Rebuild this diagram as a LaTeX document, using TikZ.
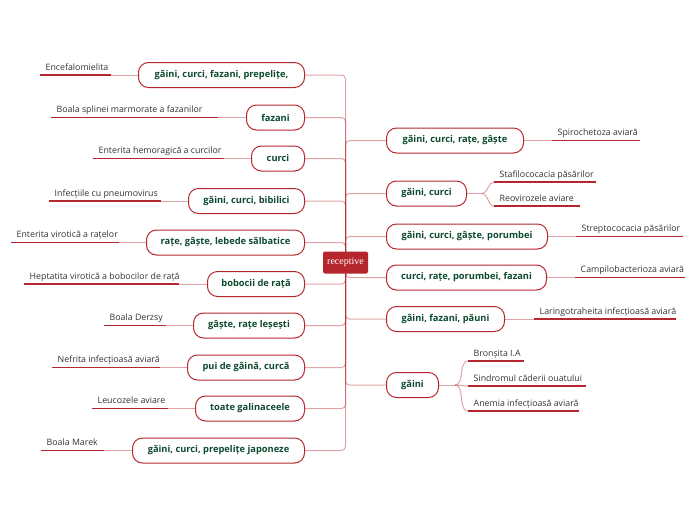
\documentclass[tikz,border=0pt]{standalone}
\usepackage{fontspec}
\setmainfont{Open Sans}
\newfontfamily\serifc{Liberation Serif}
\usetikzlibrary{backgrounds}
\definecolor{dred}{HTML}{B5272D}
\definecolor{ngreen}{HTML}{0D4A2E}
\definecolor{ltext}{HTML}{333333}
\begin{document}
\begin{tikzpicture}[x=1pt,y=-1pt,
  cat/.style={draw=dred, line width=1pt, rounded corners=10pt, minimum height=25pt, inner sep=0pt, font=\bfseries\fontsize{9.3}{11}\selectfont, text=ngreen},
  lab/.style={anchor=base west, inner sep=0pt, font=\fontsize{8.8}{11}\selectfont, text=ltext},
  uline/.style={draw=dred, line width=1.8pt},
  conn/.style={draw=dred, draw opacity=0.42, line width=1pt},
  trunk/.style={conn, rounded corners=4pt}]
\useasboundingbox (0,0) rectangle (696,520);

\node[fill=dred, text=white, rounded corners=2pt, minimum width=45pt, minimum height=22pt, inner sep=0pt, font=\serifc\fontsize{10}{11}\selectfont] (root) at (345.5,262.5) {receptive};

% left categories and leaves
\foreach \n/\y/\w/\ul/\ur/\cat/\leaf in {
  1/75/166/40/111/{găini, curci, fazani, prepelițe,}/{Encefalomielita},
  2/117.5/58/51/218/{fazani}/{Boala splinei marmorate a fazanilor},
  3/158.5/53/93/224/{curci}/{Enterita hemoragică a curcilor},
  4/201/116/49/161/{găini, curci, bibilici}/{Infecțiile cu pneumovirus},
  5/242.5/158/11/119/{rațe, gâște, lebede sălbatice}/{Enterita virotică a rațelor},
  6/284/97/24/179/{bobocii de rață}/{Heptatita virotică a bobocilor de rață},
  7/325.5/111/104/166/{gâște, rațe leșești}/{Boala Derzsy},
  8/367.5/117/52/160/{pui de găină, curcă}/{Nefrita infecțioasă aviară},
  9/408.5/109/92/168/{toate galinaceele}/{Leucozele aviare},
  10/450.5/172/41/104/{găini, curci, prepelițe japoneze}/{Boala Marek}}{
  \node[cat, minimum width=\w pt, anchor=east] (l\n) at (305,\y) {\cat};
  \coordinate (l\n a) at (\ul,\y);
  \coordinate (l\n b) at (\ur,\y);
  \node[lab] (lt\n) at ([xshift=5.5pt,yshift=4.8pt]l\n a) {\leaf};
  \begin{scope}[on background layer]
    \draw[trunk] (root.center) |- (l\n.east);
    \draw[conn] (l\n.west) -- (l\n b);
  \end{scope}
  \draw[uline] (l\n a) -- (l\n b);
}

% right categories with single leaf
\foreach \n/\y/\w/\ul/\ur/\cat/\leaf in {
  1/140.5/137/552/640/{găini, curci, rațe, gâște}/{Spirochetoza aviară},
  3/236.5/161/576/683/{găini, curci, gâște, porumbei}/{Streptococacia păsărilor},
  4/277.5/160/575/685/{curci, rațe, porumbei, fazani}/{Campilobacterioza aviară},
  5/319/118/534/676/{găini, fazani, păuni}/{Laringotraheita infecțioasă aviară}}{
  \node[cat, minimum width=\w pt, anchor=west] (r\n) at (386,\y) {\cat};
  \coordinate (r\n a) at (\ul,\y);
  \coordinate (r\n b) at (\ur,\y);
  \node[lab] (rt\n) at ([xshift=5.5pt,yshift=4.8pt]r\n a) {\leaf};
  \begin{scope}[on background layer]
    \draw[trunk] (root.center) |- (r\n.west);
    \draw[conn] (r\n.east) -- (r\n a);
  \end{scope}
  \draw[uline] (r\n a) -- (r\n b);
}

% right categories with several leaves
\node[cat, minimum width=80pt, anchor=west] (r2) at (386,193.5) {găini, curci};
\node[cat, minimum width=52pt, anchor=west] (r6) at (386,385) {găini};
\coordinate (r2j) at (482,193.5);
\coordinate (r6j) at (455,385);
\foreach \k/\pp/\y/\ul/\ur/\leaf in {
  a/2/182/494/596/{Stafilococacia păsărilor},
  b/2/206/494/580/{Reovirozele aviare},
  a/6/361/468/524/{Bronșita I.A},
  b/6/386/468/586/{Sindromul căderii ouatului},
  c/6/411/468/579/{Anemia infecțioasă aviară}}{
  \coordinate (m\pp\k a) at (\ul,\y);
  \coordinate (m\pp\k b) at (\ur,\y);
  \node[lab] (mt\pp\k) at ([xshift=5.5pt,yshift=4.8pt]m\pp\k a) {\leaf};
  \begin{scope}[on background layer]
    \draw[conn] (r\pp j) to[out=0, in=180, looseness=0.9] (m\pp\k a);
  \end{scope}
  \draw[uline] (m\pp\k a) -- (m\pp\k b);
}
\begin{scope}[on background layer]
  \draw[trunk] (root.center) |- (r2.west);
  \draw[trunk] (root.center) |- (r6.west);
  \draw[conn] (r2.east) -- (r2j);
  \draw[conn] (r6.east) -- (r6j);
\end{scope}
\end{tikzpicture}
\end{document}
